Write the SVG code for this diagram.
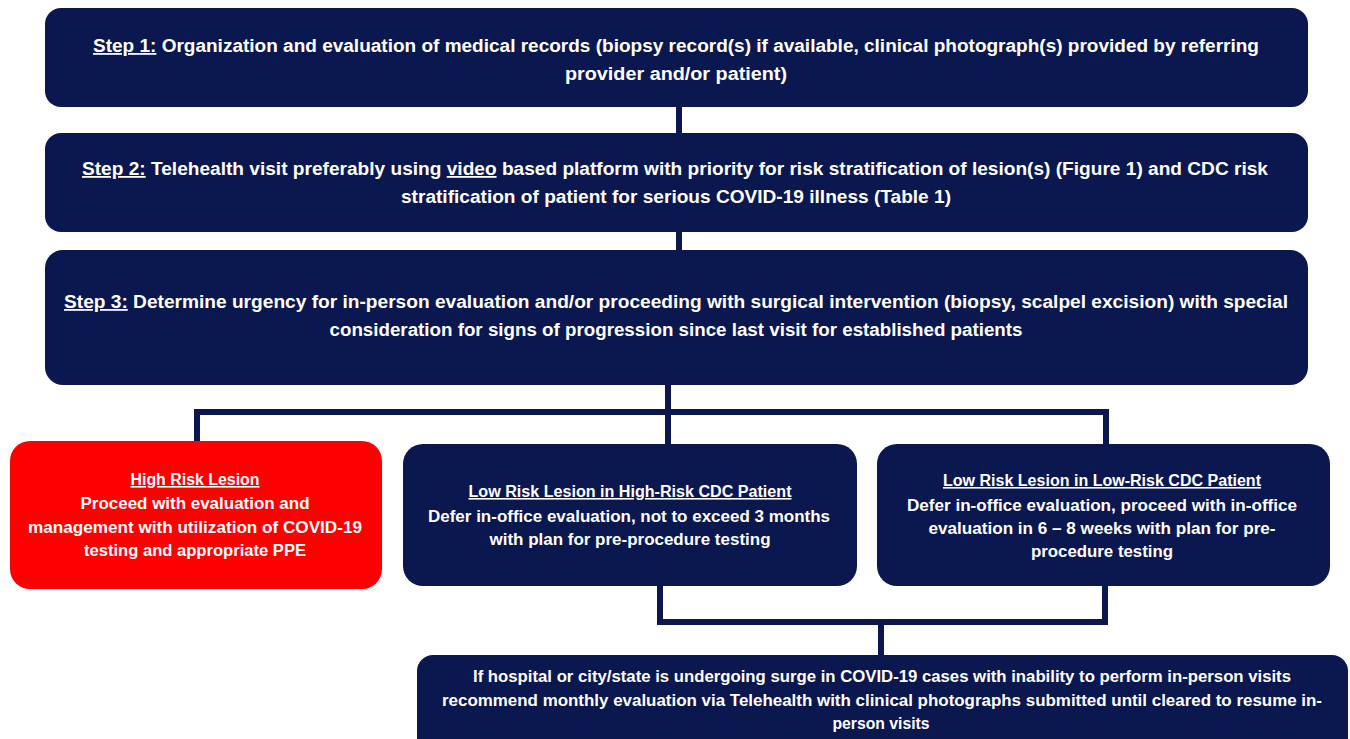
<svg xmlns="http://www.w3.org/2000/svg" width="1350" height="739" viewBox="0 0 1350 739">
<style>
.box{fill:#0b174f;}
.red{fill:#ff0000;}
.t{font-family:"Liberation Sans",Arial,sans-serif;font-weight:bold;fill:#ffffff;text-anchor:middle;}
.big{font-size:18px;}
.sm{font-size:16px;}
.u{text-decoration:underline;}
.c{stroke:#0b174f;stroke-width:6;fill:none;}
</style>
<rect width="1350" height="739" fill="#ffffff"/>
<g id="connectors">
<line class="c" x1="679" y1="105" x2="679" y2="135"/>
<line class="c" x1="679" y1="230" x2="679" y2="252"/>
<line class="c" x1="668" y1="383" x2="668" y2="447"/>
<polyline class="c" points="197,443 197,412 1106,412 1106,447"/>
<polyline class="c" points="660,584 660,622 1105,622 1105,584"/>
<line class="c" x1="881" y1="622" x2="881" y2="657"/>
</g>
<g id="step1">
<rect class="box" x="45" y="8" width="1263" height="99" rx="16"/>
<text class="t big" x="676" y="52" textLength="1166" lengthAdjust="spacingAndGlyphs"><tspan class="u">Step 1:</tspan> Organization and evaluation of medical records (biopsy record(s) if available, clinical photograph(s) provided by referring</text>
<text class="t big" x="676" y="80" textLength="222" lengthAdjust="spacingAndGlyphs">provider and/or patient)</text>
</g>
<g id="step2">
<rect class="box" x="45" y="133" width="1263" height="99" rx="16"/>
<text class="t big" x="675" y="175" textLength="1186" lengthAdjust="spacingAndGlyphs"><tspan class="u">Step 2:</tspan> Telehealth visit preferably using <tspan class="u">video</tspan> based platform with priority for risk stratification of lesion(s) (Figure 1) and CDC risk</text>
<text class="t big" x="676" y="203" textLength="550" lengthAdjust="spacingAndGlyphs">stratification of patient for serious COVID-19 illness (Table 1)</text>
</g>
<g id="step3">
<rect class="box" x="45" y="250" width="1263" height="135" rx="18"/>
<text class="t big" x="676" y="308" textLength="1224" lengthAdjust="spacingAndGlyphs"><tspan class="u">Step 3:</tspan> Determine urgency for in-person evaluation and/or proceeding with surgical intervention (biopsy, scalpel excision) with special</text>
<text class="t big" x="676" y="336" textLength="693" lengthAdjust="spacingAndGlyphs">consideration for signs of progression since last visit for established patients</text>
</g>
<g id="high-risk">
<rect class="red" x="10" y="441" width="372" height="148" rx="20"/>
<text class="t sm u" x="195" y="485" textLength="129" lengthAdjust="spacingAndGlyphs">High Risk Lesion</text>
<text class="t sm" x="195" y="509" textLength="229" lengthAdjust="spacingAndGlyphs">Proceed with evaluation and</text>
<text class="t sm" x="195" y="533" textLength="334" lengthAdjust="spacingAndGlyphs">management with utilization of COVID-19</text>
<text class="t sm" x="195" y="556" textLength="222" lengthAdjust="spacingAndGlyphs">testing and appropriate PPE</text>
</g>
<g id="low-high">
<rect class="box" x="403" y="444" width="454" height="142" rx="20"/>
<text class="t sm u" x="630" y="497" textLength="323" lengthAdjust="spacingAndGlyphs">Low Risk Lesion in High-Risk CDC Patient</text>
<text class="t sm" x="629" y="522" textLength="402" lengthAdjust="spacingAndGlyphs">Defer in-office evaluation, not to exceed 3 months</text>
<text class="t sm" x="630" y="545" textLength="281" lengthAdjust="spacingAndGlyphs">with plan for pre-procedure testing</text>
</g>
<g id="low-low">
<rect class="box" x="877" y="444" width="453" height="142" rx="20"/>
<text class="t sm u" x="1102" y="486" textLength="318" lengthAdjust="spacingAndGlyphs">Low Risk Lesion in Low-Risk CDC Patient</text>
<text class="t sm" x="1102" y="511" textLength="390" lengthAdjust="spacingAndGlyphs">Defer in-office evaluation, proceed with in-office</text>
<text class="t sm" x="1102" y="534" textLength="347" lengthAdjust="spacingAndGlyphs">evaluation in 6 – 8 weeks with plan for pre-</text>
<text class="t sm" x="1102" y="557" textLength="142" lengthAdjust="spacingAndGlyphs">procedure testing</text>
</g>
<g id="surge">
<rect class="box" x="417" y="655" width="931" height="110" rx="16"/>
<text class="t sm" x="882" y="682" textLength="818" lengthAdjust="spacingAndGlyphs">If hospital or city/state is undergoing surge in COVID-19 cases with inability to perform in-person visits</text>
<text class="t sm" x="882" y="706" textLength="880" lengthAdjust="spacingAndGlyphs">recommend monthly evaluation via Telehealth with clinical photographs submitted until cleared to resume in-</text>
<text class="t sm" x="881" y="729" textLength="97" lengthAdjust="spacingAndGlyphs">person visits</text>
</g>
</svg>
